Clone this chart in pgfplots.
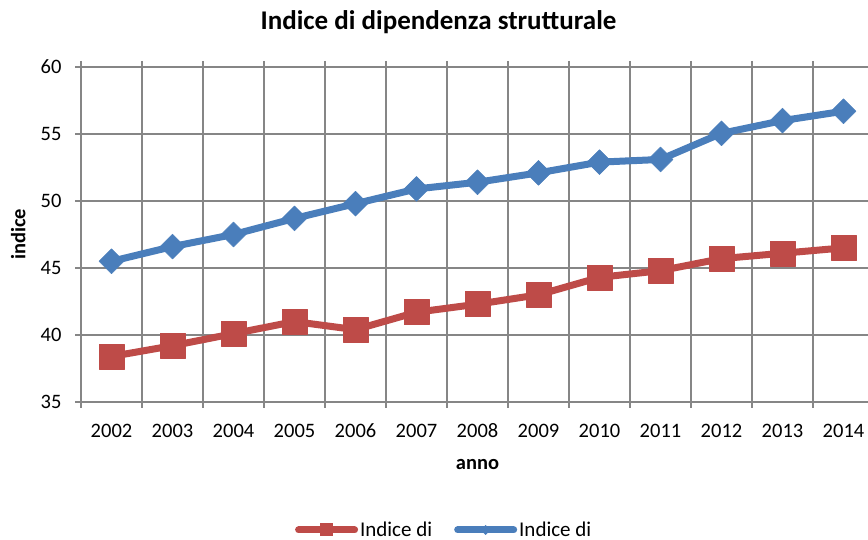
\documentclass[border=0pt]{standalone}
\usepackage{pgfplots}
\pgfplotsset{compat=1.18}
\usepackage{fontspec}
\setmainfont{Carlito}
\definecolor{redc}{HTML}{BE4B48}
\definecolor{bluec}{HTML}{4A7EBB}
\definecolor{gridc}{HTML}{868686}
\begin{document}
\begin{tikzpicture}[x=1pt,y=1pt]
\useasboundingbox (0,0) rectangle (868,540);
\begin{axis}[
  at={(81pt,138pt)}, anchor=south west,
  scale only axis, width=793pt, height=335pt,
  xmin=-0.5, xmax=12.5, ymin=35, ymax=60,
  xtick={0,...,12},
  xticklabels={2002,2003,2004,2005,2006,2007,2008,2009,2010,2011,2012,2013,2014},
  minor xtick={-0.5,0.5,...,12.5},
  ytick={35,40,...,60},
  xminorgrids=true, ymajorgrids=true, xmajorgrids=false,
  grid style={gridc, line width=1.8pt},
  minor grid style={gridc, line width=1.8pt},
  axis line style={gridc, line width=1.8pt},
  tick style={gridc, line width=1.8pt},
  major x tick style={draw=none},
  tick align=outside,
  major tick length=6pt, minor tick length=6pt,
  /pgf/number format/assume math mode=true,
  ticklabel style={font=\fontsize{20.5}{24}\selectfont, text=black},
  yticklabel style={xshift=-10pt},
  xticklabel style={yshift=-13pt, text height=13pt, text depth=0pt},
  xlabel={anno}, ylabel={indice},
  label style={font=\bfseries\fontsize{20.5}{24}\selectfont},
  xlabel style={at={(axis description cs:0.5,0)}, anchor=center, yshift=-63pt},
  ylabel style={at={(axis description cs:-0.0791,0.5)}, anchor=center},
  legend columns=2,
  legend style={draw=none, fill=none, at={(axis description cs:0.458,-0.382)}, anchor=center,
    font=\fontsize{21}{25}\selectfont,
    /tikz/every even column/.append style={column sep=20pt},
    nodes={inner sep=2pt}},
  clip=false,
]
\addplot[redc, line width=7pt, line join=round, mark=square*, mark size=12.5pt,
  mark options={solid, fill=redc, draw=redc, line width=0.5pt},
  legend image code/.code={
    \draw[redc, line width=7pt, line cap=round] (0pt,0pt) -- (56pt,0pt);
    \path[fill=redc, draw=none] (21.5pt,-6.5pt) rectangle (34.5pt,6.5pt);}]
coordinates {(0,38.4) (1,39.2) (2,40.1) (3,41.0) (4,40.4) (5,41.7) (6,42.3) (7,43.0) (8,44.3) (9,44.8) (10,45.7) (11,46.1) (12,46.5)};
\addlegendentry{Indice di}
\addplot[bluec, line width=7pt, line join=round, mark=square*, mark size=8.8pt,
  mark options={solid, rotate=45, fill=bluec, draw=bluec, line width=0.5pt},
  legend image code/.code={
    \draw[bluec, line width=7pt, line cap=round] (0pt,0pt) -- (56pt,0pt);
    \path[fill=bluec, draw=none] (28pt,-5pt) -- (33pt,0pt) -- (28pt,5pt) -- (23pt,0pt) -- cycle;}]
coordinates {(0,45.5) (1,46.6) (2,47.5) (3,48.7) (4,49.8) (5,50.9) (6,51.4) (7,52.1) (8,52.9) (9,53.1) (10,55.05) (11,56.0) (12,56.7)};
\addlegendentry{Indice di}
\end{axis}
\node[anchor=base, font=\bfseries\fontsize{27}{32}\selectfont] at (438.5,510.7) {Indice di dipendenza strutturale};
\end{tikzpicture}
\end{document}
